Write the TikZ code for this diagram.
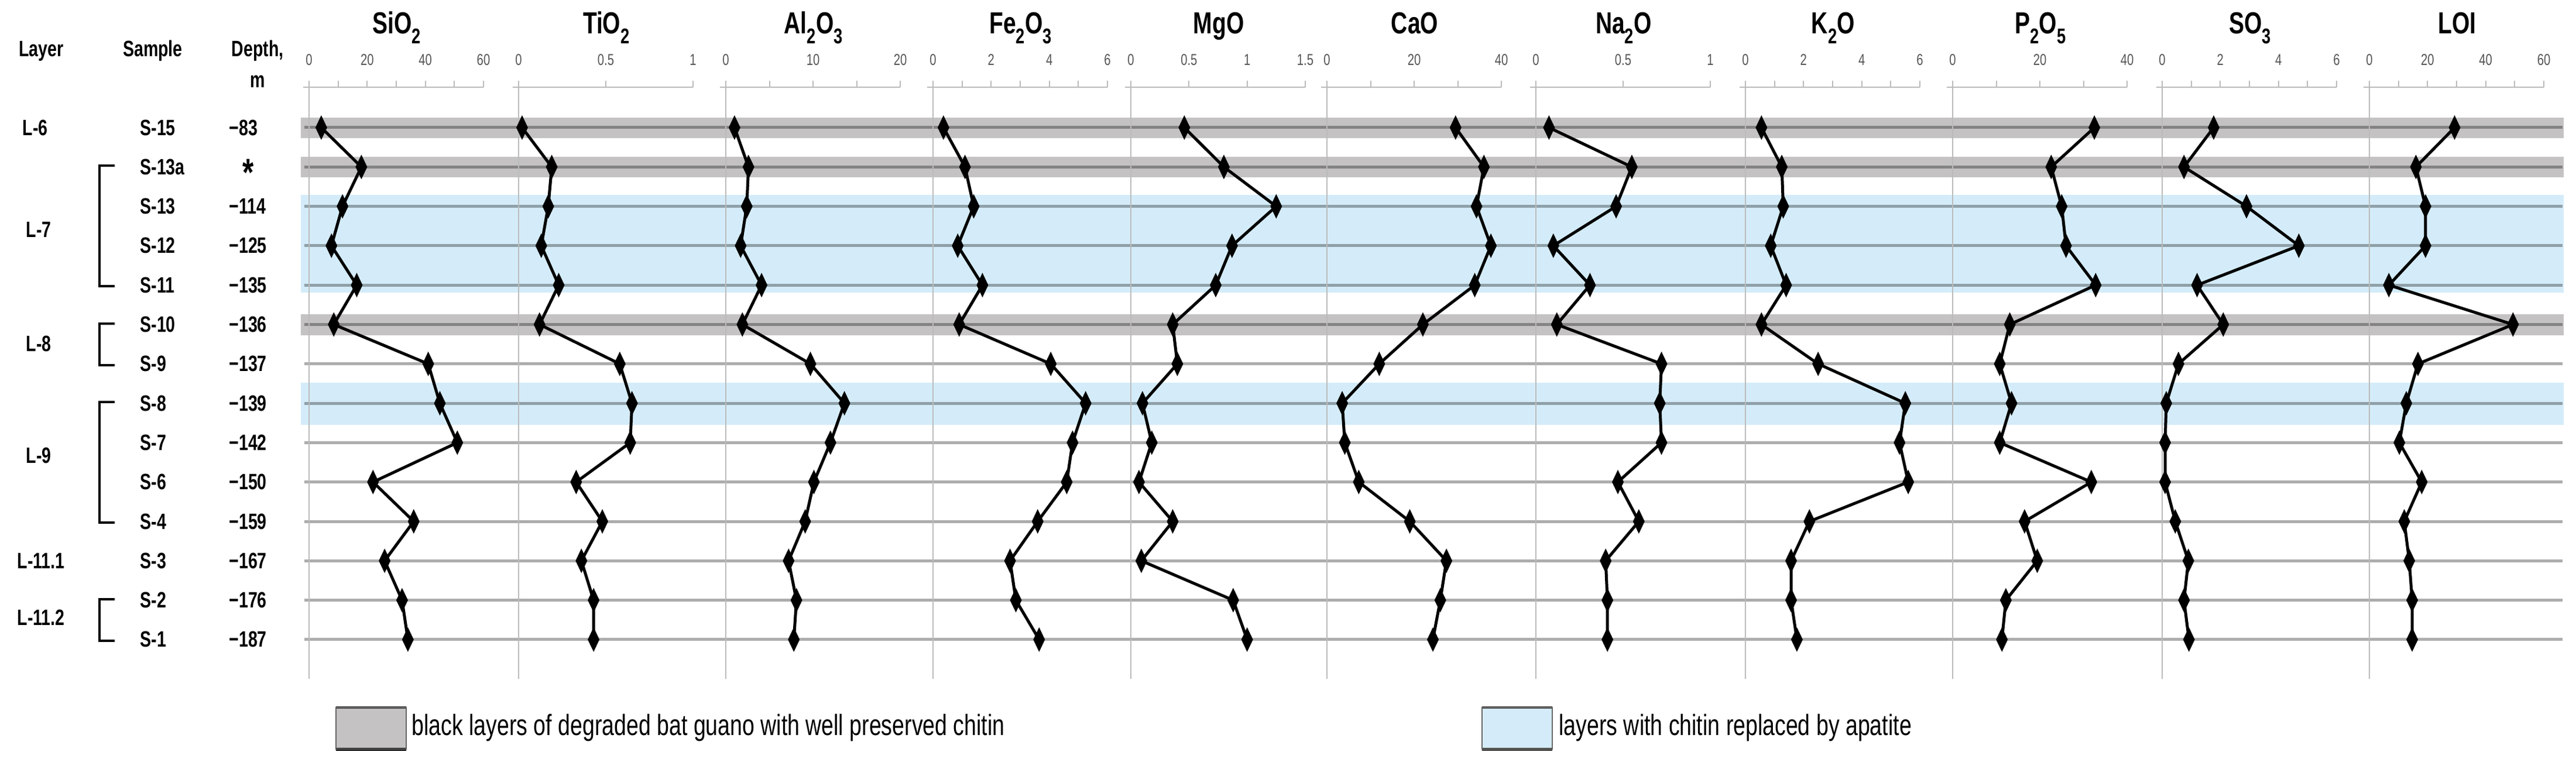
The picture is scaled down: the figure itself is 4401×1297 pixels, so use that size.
\documentclass[tikz,border=0pt]{standalone}
\usepackage{fontspec}
\setmainfont{Liberation Sans}[FakeStretch=0.75]
\definecolor{bandgray}{HTML}{C4C2C2}
\definecolor{bandblue}{HTML}{D4ECF9}
\definecolor{axgray}{HTML}{BBBBBB}
\definecolor{ticktxt}{HTML}{555555}
\tikzset{
  hdr/.style={font=\bfseries\fontsize{52}{58}\selectfont,anchor=base},
  lbl/.style={font=\bfseries\fontsize{38}{44}\selectfont},
  ticklbl/.style={font=\fontsize{27}{30}\selectfont,text=ticktxt,anchor=base},
  legtxt/.style={font=\fontsize{50}{56}\selectfont,anchor=west},
  rowline/.style={black,opacity=0.32,line width=5pt},
  dataline/.style={black,line width=5pt,line join=round},
  brack/.style={black,line width=4pt},
}
\newcommand{\RY}[1]{218+67.3*#1}
% zero, max, ticks list, labels list, name, values
\newcommand{\mypanel}[6]{%
  \draw[axgray,line width=1.5pt] (#1,138) -- (#1,1160);
  \draw[axgray,line width=2.5pt] (#1-10,149) -- (#1+298,149);
  \foreach \t in {#3} \draw[axgray,line width=2pt] ({#1+\t/#2*298},149) -- ({#1+\t/#2*298},138);
  \foreach \t in {#4} \node[ticklbl] at ({#1+\t/#2*298},112) {\t};
  \node[hdr] at (#1+150,58) {#5};
  \foreach \v [count=\i from 0] in {#6} \coordinate (P-\i) at ({#1+\v/#2*298},{\RY{\i}});
  \draw[dataline] (P-0) \foreach \i in {1,...,13}{ -- (P-\i)};
  \foreach \i in {0,...,13} \fill (P-\i) ++(0,-21) -- ++(10,21) -- ++(-10,21) -- ++(-10,-21) -- cycle;
}
\begin{document}
\begin{tikzpicture}[x=1pt,y=-1pt]
\useasboundingbox (0,0) rectangle (4401,1297);
\fill[white] (0,0) rectangle (4401,1297);
% bands
\fill[bandgray] (514,{\RY{0}-17}) rectangle (4380,{\RY{0}+18});
\fill[bandgray] (514,{\RY{1}-17}) rectangle (4380,{\RY{1}+18});
\fill[bandgray] (514,{\RY{5}-18}) rectangle (4380,{\RY{5}+18});
\fill[bandblue] (514,{\RY{2}-20}) rectangle (4380,{\RY{4}+13});
\fill[bandblue] (514,{\RY{7}-35}) rectangle (4380,{\RY{7}+37});
% row lines
\foreach \i in {0,...,13} \draw[rowline] (520,{\RY{\i}}) -- (4378,{\RY{\i}});
% panels
\mypanel{528}{60}{0,10,...,60}{0,20,40,60}{SiO\textsubscript{2}}{4.2,18,11.5,7.7,16.4,8.5,41,45,51,22,36,26,32,34}
\mypanel{886}{1}{0,0.5,1}{0,0.5,1}{TiO\textsubscript{2}}{0.02,0.19,0.17,0.13,0.23,0.12,0.58,0.65,0.64,0.33,0.48,0.36,0.43,0.43}
\mypanel{1240}{20}{0,5,...,20}{0,10,20}{Al\textsubscript{2}O\textsubscript{3}}{1.0,2.6,2.4,1.7,4.1,1.9,9.7,13.6,12.0,10.1,9.1,7.2,8.1,7.8}
\mypanel{1594}{6}{0,1,...,6}{0,2,4,6}{Fe\textsubscript{2}O\textsubscript{3}}{0.36,1.1,1.4,0.85,1.7,0.9,4.05,5.25,4.8,4.6,3.6,2.65,2.85,3.65}
\mypanel{1932}{1.5}{0,0.5,1,1.5}{0,0.5,1,1.5}{MgO}{0.46,0.8,1.25,0.87,0.73,0.36,0.40,0.10,0.18,0.07,0.36,0.09,0.88,1.0}
\mypanel{2267}{40}{0,10,...,40}{0,20,40}{CaO}{29.5,36,34.3,37.6,33.9,22,12,3.5,4.1,7.3,19,27.4,26,24.3}
\mypanel{2624}{1}{0,0.5,1}{0,0.5,1}{Na\textsubscript{2}O}{0.075,0.55,0.46,0.1,0.31,0.12,0.72,0.71,0.72,0.47,0.59,0.40,0.41,0.41}
\mypanel{2982}{6}{0,1,...,6}{0,2,4,6}{K\textsubscript{2}O}{0.55,1.25,1.3,0.87,1.4,0.55,2.5,5.5,5.3,5.6,2.2,1.57,1.57,1.77}
\mypanel{3336}{40}{0,10,...,40}{0,20,40}{P\textsubscript{2}O\textsubscript{5}}{32.5,22.6,25,26,32.8,13.1,10.8,13.5,10.8,31.8,16.5,19.4,12.2,11.3}
\mypanel{3694}{6}{0,1,...,6}{0,2,4,6}{SO\textsubscript{3}}{1.77,0.75,2.9,4.7,1.2,2.1,0.56,0.14,0.1,0.1,0.45,0.9,0.75,0.92}
\mypanel{4048}{60}{0,10,...,60}{0,20,40,60}{LOI}{29.3,16,19.3,19.3,6.7,49.4,16.7,12.7,10.3,18,12,13.7,14.7,14.7}
% left headers
\node[lbl,anchor=base west] (hlayer) at (29,97) {Layer};
\node[lbl,anchor=base] (hsample) at (261,97) {Sample};
\node[lbl,anchor=base] (hdepth) at (440,97) {Depth,};
\node[lbl,anchor=base] (hm) at (440,150) {m};
% samples and depths
\foreach \s/\d [count=\i from 0] in {S-15/−83,S-13a/{},S-13/−114,S-12/−125,S-11/−135,S-10/−136,S-9/−137,S-8/−139,S-7/−142,S-6/−150,S-4/−159,S-3/−167,S-2/−176,S-1/−187}{
  \node[lbl,anchor=west] (s\i) at (236,{\RY{\i}}) {\s};
  \node[lbl,anchor=west] (d\i) at (388,{\RY{\i}}) {\d};
}
\node[font=\bfseries\fontsize{66}{66}\selectfont] (ast) at (424,{\RY{1}+9}) {*};
% layers
\node[lbl] (l6) at (60,{\RY{0}}) {L-6};
\node[lbl] (l7) at (66,392) {L-7};
\node[lbl] (l8) at (66,587) {L-8};
\node[lbl] (l9) at (66,778) {L-9};
\node[lbl] (l111) at (70,{\RY{11}}) {L-11.1};
\node[lbl] (l112) at (70,1055) {L-11.2};
% brackets
\foreach \a/\b in {1/4,5/6,7/10,12/13}
  \draw[brack] (196,{\RY{\a}-2}) -- (170,{\RY{\a}-2}) -- (170,{\RY{\b}+2}) -- (196,{\RY{\b}+2});
% legend
\fill[bandgray] (574,1209) rectangle (694,1280);
\draw[black!75,line width=4pt] (574,1209) -- (694,1209);
\draw[black,line width=5pt] (574,1280) -- (694,1280);
\draw[black!60,line width=1.5pt] (574,1209) rectangle (694,1280);
\node[legtxt] (lg1) at (700,1244) {black layers of degraded bat guano with well preserved chitin};
\fill[bandblue] (2532,1209) rectangle (2652,1280);
\draw[black!70,line width=4pt] (2532,1209) -- (2652,1209);
\draw[black!80,line width=5pt] (2532,1280) -- (2652,1280);
\draw[black!60,line width=1.5pt] (2532,1209) rectangle (2652,1280);
\node[legtxt] (lg2) at (2660,1244) {layers with chitin replaced by apatite};
\end{tikzpicture}
\end{document}
